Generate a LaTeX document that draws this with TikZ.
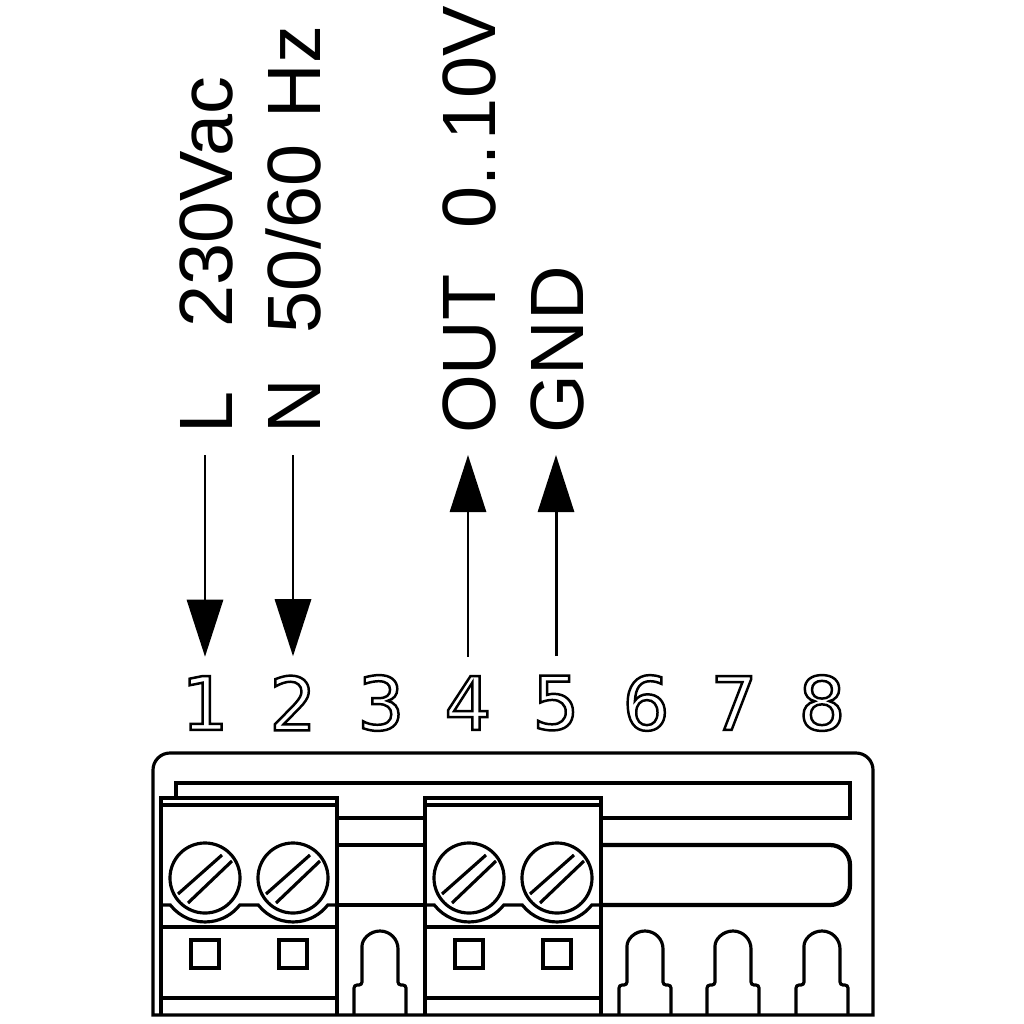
\documentclass[tikz,border=0pt]{standalone}
\usepackage{fontspec}
\setmainfont{Liberation Sans}
\newfontfamily\digitfont{DejaVu Sans}
\usetikzlibrary{arrows.meta}
\newcommand{\hollow}[1]{\special{pdf:code q 1 Tr 0.7 w}#1\special{pdf:code Q}}
\tikzset{
    body/.style = {line width = 0.9pt},
    thick line/.style = {line width = 1.2pt},
    pinlabel/.style = {rotate = 90, anchor = west, inner sep = 0pt, outer sep = 6pt, text height = 15.4pt, text depth = 0pt, font = \fontsize{21.5}{24}\selectfont},
    pinnumber/.style = {inner sep = 0pt, outer sep = 5.5pt, font = \digitfont\fontsize{21}{24}\selectfont},
    wire/.style = {line width = 0.85pt, -{Triangle[length = 0.57cm, width = 0.36cm]}}
}
\begin{document}
\begin{tikzpicture}[x = 0.01cm, y = -0.01cm]
    \useasboundingbox (0,0) rectangle (1024,1024);
    % Morsetti
    \foreach \n/\px in {1/205,2/293,3/381,4/468,5/556,6/646,7/734,8/822}{
        \node[pinnumber] (num\n) at (\px,703) {\hollow{\n}};
    }
    % Etichette
    \node[pinlabel] (lblL) at (205,455) {L\hspace{0.85em}230Vac};
    \node[pinlabel] (lblN) at (293,455) {N\hspace{0.6em}50/60\hspace{0.35em}Hz};
    \node[pinlabel] (lblOut) at (468,455) {OUT\hspace{0.6em}0..\kern0.06em 10V};
    \node[pinlabel] (lblGnd) at (556,455) {GND};
    % Frecce
    \draw[wire] (lblL.west) -- (num1.north);
    \draw[wire] (lblN.west) -- (num2.north);
    \draw[wire] (num4.north) -- (lblOut.west);
    \draw[wire] (num5.north) -- (lblGnd.west);
    % Contenitore
    \draw[body] (153,1015) -- (153,770) arc[start angle = 180, end angle = 90, radius = 0.17cm]
        -- (856,753) arc[start angle = 90, end angle = 0, radius = 0.17cm] -- (873,1015) -- cycle;
    \draw[body] (176,798) -- (176,783) -- (850,783) -- (850,818) -- (601,818);
    \draw[body] (337,818) -- (425,818);
    \draw[thick line] (337,845) -- (425,845);
    \draw[body] (337,905) -- (425,905);
    \draw[thick line, rounded corners = 0.2cm] (601,845) -- (850,845) -- (850,905) -- (601,905);
    % Blocchi
    \foreach \bx in {161,425}{
        \begin{scope}[shift = {(\bx,0)}]
            \draw[body] (0,1015) -- (0,798) -- (176,798) -- (176,1015);
            \draw[body] (0,805) -- (176,805);
            \draw[body] (0,927) -- (176,927);
            \draw[body] (0,998) -- (176,998);
            \draw[body] (0,905) -- (9.3,905) arc[start angle = 217.9, end angle = 322.1, radius = 0.44cm]
                -- (97.3,905) arc[start angle = 217.9, end angle = 322.1, radius = 0.44cm] -- (176,905);
            \foreach \sx in {44,132}{
                \draw[body] (\sx,878) circle (0.35cm);
                \draw[body] (\sx-27,894) -- (\sx+17,855);
                \draw[body] (\sx-17,903) -- (\sx+27,861);
                \draw[body] (\sx-14,940) rectangle (\sx+14,968);
            }
        \end{scope}
    }
    % Denti
    \foreach \tx in {380,645,733,822}{
        \draw[body, rounded corners = 0.03cm] (\tx-26,1015) -- (\tx-26,985) -- (\tx-18,985) -- (\tx-18,949)
            [sharp corners] arc[start angle = 180, end angle = 0, radius = 0.18cm]
            [rounded corners = 0.03cm] -- (\tx+18,985) -- (\tx+26,985) -- (\tx+26,1015);
    }
\end{tikzpicture}
\end{document}
